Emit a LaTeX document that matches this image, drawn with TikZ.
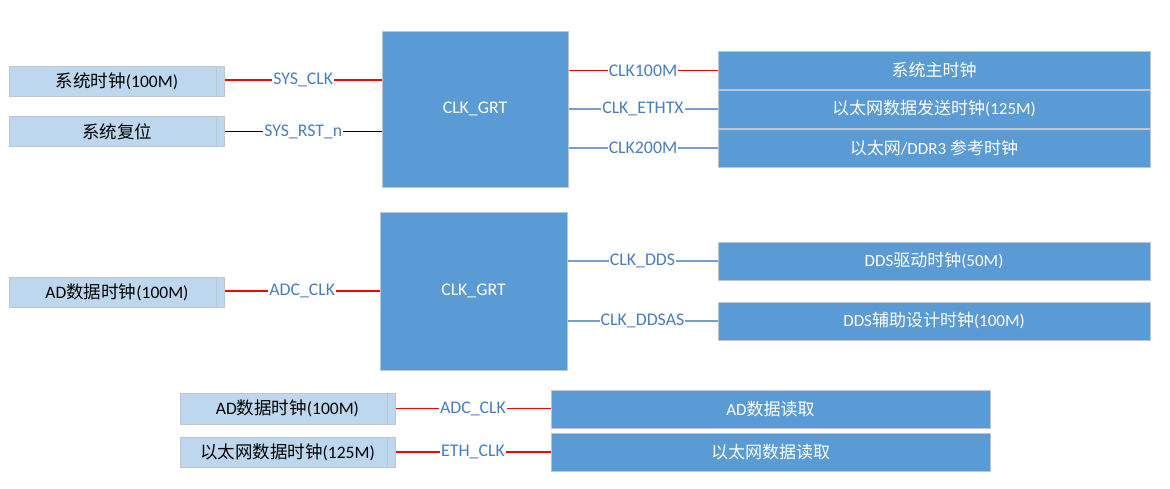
\documentclass[tikz,border=0pt]{standalone}
\usepackage{fontspec}
\setmainfont{Carlito}
\newfontfamily\cjk{Noto Sans CJK SC}
\newcommand{\zh}[1]{{\cjk #1}}
\usetikzlibrary{positioning}
\definecolor{boxblue}{HTML}{5B9BD5}
\definecolor{inblue}{HTML}{BDD7EE}
\definecolor{edgegray}{HTML}{BFC6D0}
\definecolor{labelblue}{HTML}{4A7EBB}
\definecolor{wireblue}{HTML}{6FA0D6}
\begin{document}
\begin{tikzpicture}[
    x=1pt, y=-1pt,
    font=\fontsize{17.8}{20}\selectfont
]
\tikzset{
    inbox/.style = {rectangle, draw=edgegray, fill=inblue, line width=1pt, inner sep=0pt,
        minimum width=215pt, minimum height=30pt, font=\fontsize{17.5}{19}\selectfont,
        path picture={\draw[edgegray, line width=1pt]
            ([xshift=-8pt]path picture bounding box.north east) --
            ([xshift=-8pt]path picture bounding box.south east);}},
    grtbox/.style = {rectangle, draw=edgegray, fill=boxblue, line width=1pt, inner sep=0pt,
        text=white},
    outbox/.style = {rectangle, draw=edgegray, fill=boxblue, line width=1pt, inner sep=0pt,
        text=white, minimum height=38pt, font=\fontsize{17}{19}\selectfont},
    sig/.style = {fill=white, text=labelblue, inner sep=1pt},
    wirer/.style = {line width=1.6pt, red},
    wirek/.style = {line width=1.6pt, black},
    wireb/.style = {line width=1.6pt, wireblue}
}
\useasboundingbox (0,0) rectangle (1170,488);
% system clock block
\node[inbox] at (117,81) (sysclk) {\zh{系统时钟}(100M)};
\node[inbox] at (117,131.5) (sysrst) {\zh{系统复位}};
\node[grtbox, minimum width=186pt, minimum height=156pt] at (475,109) (grta) {CLK\_GRT};
\node[outbox, minimum width=432pt] at (934,70.5) (mainclk) {\zh{系统主时钟}};
\node[outbox, minimum width=432pt] at (934,109) (ethtx) {\zh{以太网数据发送时钟}(125M)};
\node[outbox, minimum width=432pt] at (934,148) (ddrclk) {\zh{以太网}/DDR3 \zh{参考时钟}};
\draw[wirer] (sysclk.east |- 0,80) -- node[sig] {SYS\_CLK} (grta.west |- 0,80);
\draw[wirek] (sysrst.east) -- node[sig] {SYS\_RST\_n} (sysrst.east -| grta.west);
\draw[wirer] (grta.east |- mainclk.west) -- node[sig] {CLK100M} (mainclk.west);
\draw[wireb] (grta.east |- ethtx.west) -- node[sig] {CLK\_ETHTX} (ethtx.west);
\draw[wireb] (grta.east |- ddrclk.west) -- node[sig] {CLK200M} (ddrclk.west);
% DDS clock block
\node[inbox] at (117,292) (adclk) {AD\zh{数据时钟}(100M)};
\node[grtbox, minimum width=187pt, minimum height=158pt] at (473.5,291) (grtb) {CLK\_GRT};
\node[outbox, minimum width=432pt] at (934,261) (ddsclk) {DDS\zh{驱动时钟}(50M)};
\node[outbox, minimum width=432pt] at (934,321) (ddsas) {DDS\zh{辅助设计时钟}(100M)};
\draw[wirer] (adclk.east |- 0,291) -- node[sig] {ADC\_CLK} (grtb.west |- 0,291);
\draw[wireb] (grtb.east |- ddsclk.west) -- node[sig] {CLK\_DDS} (ddsclk.west);
\draw[wireb] (grtb.east |- ddsas.west) -- node[sig] {CLK\_DDSAS} (ddsas.west);
% data read
\node[inbox, minimum height=31pt] at (287.5,408.5) (adin) {AD\zh{数据时钟}(100M)};
\node[inbox] at (287.5,452) (ethin) {\zh{以太网数据时钟}(125M)};
\node[outbox, minimum width=439pt] at (770.5,409) (adrd) {AD\zh{数据读取}};
\node[outbox, minimum width=439pt] at (770.5,452) (ethrd) {\zh{以太网数据读取}};
\draw[wirer] (adin.east) -- node[sig] {ADC\_CLK} (adin.east -| adrd.west);
\draw[wirer] (ethin.east) -- node[sig] {ETH\_CLK} (ethin.east -| ethrd.west);
\end{tikzpicture}
\end{document}
